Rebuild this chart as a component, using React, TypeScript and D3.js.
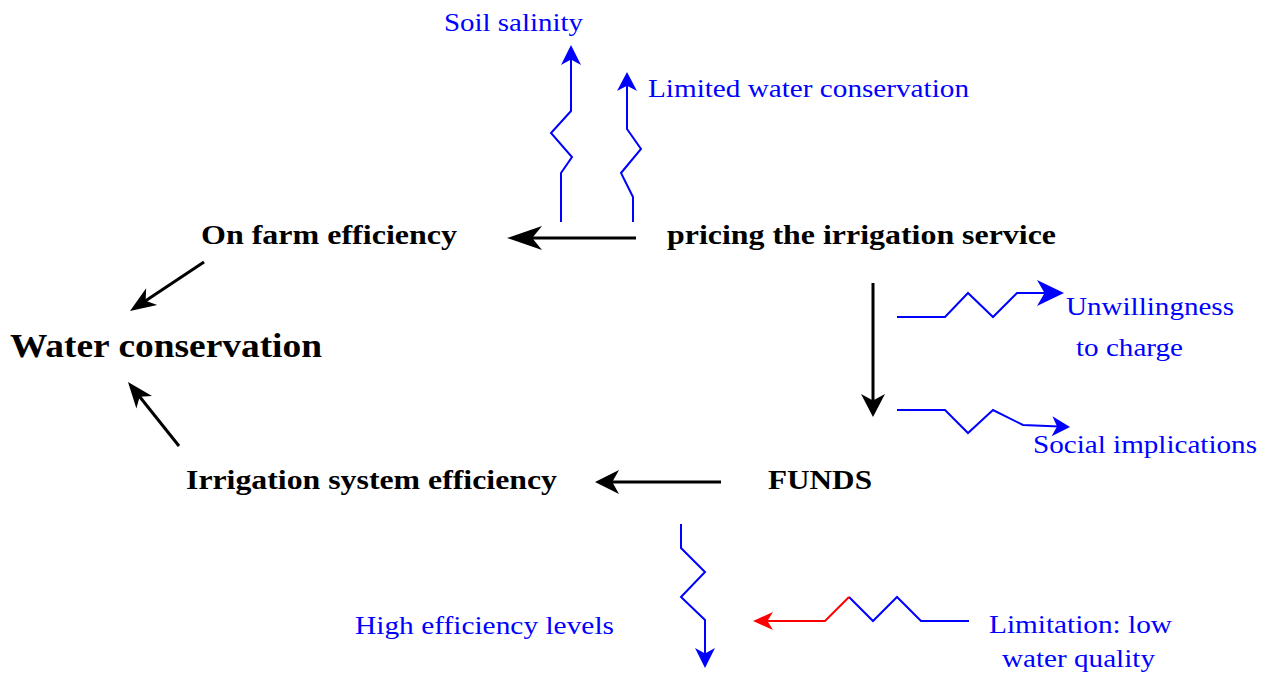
import React from "react";
import * as d3 from "d3";

// ---- content ----
const boldLabels = [
  "Water conservation",
  "On farm efficiency",
  "pricing the irrigation service",
  "Irrigation system efficiency",
  "FUNDS",
];
const blueLabels = [
  "Soil salinity",
  "Limited water conservation",
  "Unwillingness",
  "to charge",
  "Social implications",
  "High efficiency levels",
  "Limitation: low",
  "water quality",
];

// ---- layout (x, baseline y, target width, font size) ----
const boldLayout: [number, number, number, number][] = [
  [10, 357, 312, 34],
  [201, 244, 256, 28],
  [667, 244, 389, 28],
  [186, 489, 371, 28],
  [768, 489, 104, 28],
];
const blueLayout: [number, number, number][] = [
  [444, 31, 139],
  [648, 97, 321],
  [1066, 315, 168],
  [1076, 356, 107],
  [1033, 453, 224],
  [355, 634, 259],
  [989, 633, 183],
  [1002, 667, 153],
];

type P = [number, number];
// black straight arrows: from, to, headLen, headHalfWidth
const blackArrows: { pts: P[]; len: number; half: number }[] = [
  { pts: [[636, 238], [507, 238]], len: 35, half: 12 },
  { pts: [[721, 482], [595, 482]], len: 24, half: 12 },
  { pts: [[873, 283], [873, 417]], len: 23, half: 12 },
  { pts: [[204, 262], [130, 311]], len: 26, half: 10 },
  { pts: [[179, 446], [128, 382]], len: 26, half: 10 },
];
// blue zigzag arrows
const blueArrows: { pts: P[]; len: number; half: number }[] = [
  { pts: [[561, 222], [561, 173], [572, 157], [551, 133], [571, 111], [571, 45]], len: 20, half: 10 },
  { pts: [[633, 222], [633, 197], [621, 173], [641, 149], [627, 129], [627, 72]], len: 19, half: 10 },
  { pts: [[897, 317], [945, 317], [968, 293], [993, 317], [1017, 293], [1064, 293]], len: 27, half: 13 },
  { pts: [[897, 410], [945, 410], [968, 433], [993, 410], [1023, 425], [1070, 427]], len: 18, half: 10 },
  { pts: [[681, 524], [681, 548], [705, 572], [681, 597], [705, 620], [705, 668]], len: 20, half: 10 },
];
const blueLimitLine: P[] = [[849, 597], [873, 621], [897, 597], [921, 621], [969, 621]];
const redLimitLine: P[] = [[849, 597], [825, 621], [753, 621]];
const redHead = { len: 20, half: 9 };

function head(a: P, b: P, len: number, half: number): string {
  const dx = b[0] - a[0];
  const dy = b[1] - a[1];
  const d = Math.hypot(dx, dy);
  const ux = dx / d, uy = dy / d;
  const nx = -uy, ny = ux;
  const bx = b[0] - ux * len, by = b[1] - uy * len;
  const notch = len * 0.72;
  const p = d3.path();
  p.moveTo(b[0], b[1]);
  p.lineTo(bx + nx * half, by + ny * half);
  p.lineTo(b[0] - ux * notch, b[1] - uy * notch);
  p.lineTo(bx - nx * half, by - ny * half);
  p.closePath();
  return p.toString();
}

const line = d3.line<P>().x((d) => d[0]).y((d) => d[1]);

function shorten(pts: P[], len: number): P[] {
  const n = pts.length;
  const a = pts[n - 2], b = pts[n - 1];
  const dx = b[0] - a[0], dy = b[1] - a[1];
  const d = Math.hypot(dx, dy);
  const k = (len * 0.6) / d;
  return [...pts.slice(0, n - 1), [b[0] - dx * k, b[1] - dy * k]];
}

export default function App() {
  const font = "'Liberation Serif', 'Times New Roman', serif";
  return (
    <svg width={1265} height={675} style={{ position: "absolute", left: 0, top: 0, background: "#fff" }}>
      {blackArrows.map((a, i) => (
        <g key={"b" + i}>
          <path d={line(shorten(a.pts, a.len)) || ""} stroke="#000" strokeWidth={3} fill="none" />
          <path d={head(a.pts[a.pts.length - 2], a.pts[a.pts.length - 1], a.len, a.half)} fill="#000" />
        </g>
      ))}
      {blueArrows.map((a, i) => (
        <g key={"z" + i}>
          <path d={line(shorten(a.pts, a.len)) || ""} stroke="#0000ff" strokeWidth={2} fill="none" />
          <path d={head(a.pts[a.pts.length - 2], a.pts[a.pts.length - 1], a.len, a.half)} fill="#0000ff" />
        </g>
      ))}
      <path d={line(blueLimitLine) || ""} stroke="#0000ff" strokeWidth={2} fill="none" />
      <path d={line(shorten(redLimitLine, redHead.len)) || ""} stroke="#ff0000" strokeWidth={2} fill="none" />
      <path d={head(redLimitLine[1], redLimitLine[2], redHead.len, redHead.half)} fill="#ff0000" />
      {boldLabels.map((t, i) => {
        const [x, y, w, fs] = boldLayout[i];
        return (
          <text key={t} x={x} y={y} fontFamily={font} fontWeight="bold" fontSize={fs} fill="#000"
            textLength={w} lengthAdjust="spacingAndGlyphs">{t}</text>
        );
      })}
      {blueLabels.map((t, i) => {
        const [x, y, w] = blueLayout[i];
        return (
          <text key={t} x={x} y={y} fontFamily={font} fontSize={26} fill="#0000ff"
            textLength={w} lengthAdjust="spacingAndGlyphs">{t}</text>
        );
      })}
    </svg>
  );
}
